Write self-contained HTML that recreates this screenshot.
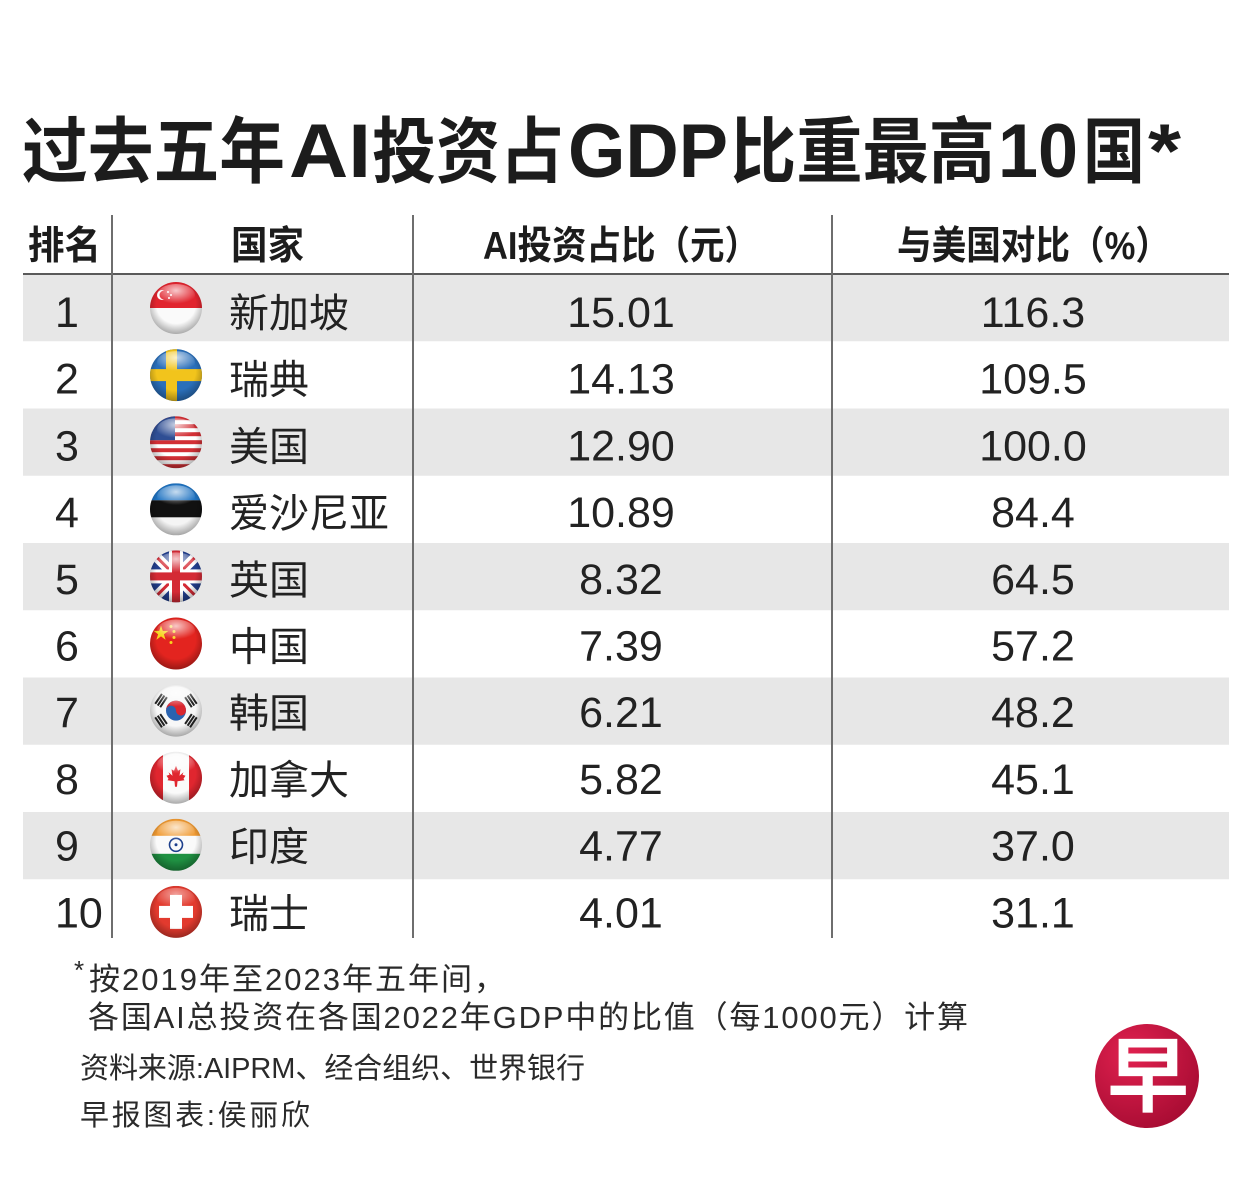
<!DOCTYPE html>
<html>
<head>
<meta charset="utf-8">
<style>
html,body{margin:0;padding:0;background:#fff;}
svg{display:block;}
.cjk{font-family:"Liberation Sans","Noto Sans CJK SC",sans-serif;}
</style>
</head>
<body>
<svg width="1251" height="1179" viewBox="0 0 1251 1179" xmlns="http://www.w3.org/2000/svg">
<defs>
  <clipPath id="cc"><circle cx="0" cy="0" r="26"/></clipPath>
  <radialGradient id="shade" cx="50%" cy="42%" r="58%">
    <stop offset="0.65" stop-color="#000" stop-opacity="0"/>
    <stop offset="1" stop-color="#000" stop-opacity="0.32"/>
  </radialGradient>
  <radialGradient id="gloss" cx="50%" cy="30%" r="60%">
    <stop offset="0" stop-color="#fff" stop-opacity="0.75"/>
    <stop offset="1" stop-color="#fff" stop-opacity="0"/>
  </radialGradient>
  <radialGradient id="logo" cx="35%" cy="30%" r="75%">
    <stop offset="0" stop-color="#e0214f"/>
    <stop offset="1" stop-color="#a80c33"/>
  </radialGradient>
</defs>

<!-- Title -->
<g class="cjk" font-weight="bold" fill="#1c1c1c">
  <text x="22" y="177" font-size="72" textLength="263" lengthAdjust="spacingAndGlyphs">过去五年</text>
  <text x="289" y="177" font-size="76" textLength="82" lengthAdjust="spacingAndGlyphs">AI</text>
  <text x="372" y="177" font-size="72" textLength="192" lengthAdjust="spacingAndGlyphs">投资占</text>
  <text x="568" y="177" font-size="76" textLength="160" lengthAdjust="spacingAndGlyphs">GDP</text>
  <text x="730" y="177" font-size="72" textLength="265" lengthAdjust="spacingAndGlyphs">比重最高</text>
  <text x="998" y="177" font-size="76" textLength="80" lengthAdjust="spacingAndGlyphs">10</text>
  <text x="1083" y="177" font-size="72" textLength="62" lengthAdjust="spacingAndGlyphs">国</text>
  <text x="1148" y="177" font-size="76" textLength="33" lengthAdjust="spacingAndGlyphs">*</text>
</g>

<!-- Striped rows -->
<g fill="#e7e7e7">
  <rect x="23" y="275" width="1206" height="66.25"/>
  <rect x="23" y="408.5" width="1206" height="67.25"/>
  <rect x="23" y="543" width="1206" height="67.25"/>
  <rect x="23" y="677.5" width="1206" height="67.25"/>
  <rect x="23" y="812" width="1206" height="67.25"/>
</g>

<!-- Grid lines -->
<line x1="23" y1="274" x2="1229" y2="274" stroke="#5a5a5a" stroke-width="2"/>
<g stroke="#6e6e6e" stroke-width="2">
  <line x1="112" y1="215" x2="112" y2="938"/>
  <line x1="413" y1="215" x2="413" y2="938"/>
  <line x1="832" y1="215" x2="832" y2="938"/>
</g>

<!-- Header -->
<g class="cjk" font-weight="bold" font-size="39" fill="#1c1c1c">
  <text x="28" y="259" textLength="73" lengthAdjust="spacingAndGlyphs">排名</text>
  <text x="231" y="259" textLength="73" lengthAdjust="spacingAndGlyphs">国家</text>
  <text x="483" y="259" textLength="276" lengthAdjust="spacingAndGlyphs">AI投资占比（元）</text>
  <text x="897" y="259" textLength="273" lengthAdjust="spacingAndGlyphs">与美国对比（%）</text>
</g>

<!-- Rank numbers -->
<g font-family="'Liberation Sans',sans-serif" font-size="43" fill="#222">
  <text x="55" y="327">1</text>
  <text x="55" y="393.7">2</text>
  <text x="55" y="460.4">3</text>
  <text x="55" y="527.1">4</text>
  <text x="55" y="593.8">5</text>
  <text x="55" y="660.5">6</text>
  <text x="55" y="727.2">7</text>
  <text x="55" y="793.9">8</text>
  <text x="55" y="860.6">9</text>
  <text x="55" y="927.3">10</text>
</g>

<!-- Country names -->
<g class="cjk" font-size="40" fill="#222">
  <text x="229" y="327">新加坡</text>
  <text x="229" y="393.7">瑞典</text>
  <text x="229" y="460.4">美国</text>
  <text x="229" y="527.1">爱沙尼亚</text>
  <text x="229" y="593.8">英国</text>
  <text x="229" y="660.5">中国</text>
  <text x="229" y="727.2">韩国</text>
  <text x="229" y="793.9">加拿大</text>
  <text x="229" y="860.6">印度</text>
  <text x="229" y="927.3">瑞士</text>
</g>

<!-- Values -->
<g font-family="'Liberation Sans',sans-serif" font-size="43" fill="#222" text-anchor="middle">
  <text x="621" y="327">15.01</text>
  <text x="621" y="393.7">14.13</text>
  <text x="621" y="460.4">12.90</text>
  <text x="621" y="527.1">10.89</text>
  <text x="621" y="593.8">8.32</text>
  <text x="621" y="660.5">7.39</text>
  <text x="621" y="727.2">6.21</text>
  <text x="621" y="793.9">5.82</text>
  <text x="621" y="860.6">4.77</text>
  <text x="621" y="927.3">4.01</text>

  <text x="1033" y="327">116.3</text>
  <text x="1033" y="393.7">109.5</text>
  <text x="1033" y="460.4">100.0</text>
  <text x="1033" y="527.1">84.4</text>
  <text x="1033" y="593.8">64.5</text>
  <text x="1033" y="660.5">57.2</text>
  <text x="1033" y="727.2">48.2</text>
  <text x="1033" y="793.9">45.1</text>
  <text x="1033" y="860.6">37.0</text>
  <text x="1033" y="927.3">31.1</text>
</g>

<!-- Flags -->
<!-- Singapore -->
<g transform="translate(176,308)">
  <g clip-path="url(#cc)">
    <rect x="-26" y="-26" width="52" height="52" fill="#fafafa"/>
    <rect x="-26" y="-26" width="52" height="26" fill="#e1242e"/>
    <circle cx="-14" cy="-13" r="5" fill="#fff"/>
    <circle cx="-12" cy="-13" r="4.5" fill="#e1242e"/>
    <circle cx="-8" cy="-16" r="1" fill="#fff"/>
    <circle cx="-5" cy="-13" r="1" fill="#fff"/>
    <circle cx="-7" cy="-10" r="1" fill="#fff"/>
  </g>
  <circle r="26" fill="url(#shade)"/>
  <ellipse cx="0" cy="-13" rx="19" ry="11" fill="url(#gloss)"/>
</g>
<!-- Sweden -->
<g transform="translate(176,375.1)">
  <g clip-path="url(#cc)">
    <rect x="-26" y="-26" width="52" height="52" fill="#2a6fba"/>
    <rect x="-10" y="-26" width="11" height="52" fill="#f2c41c"/>
    <rect x="-26" y="-6" width="52" height="12" fill="#f2c41c"/>
  </g>
  <circle r="26" fill="url(#shade)"/>
  <ellipse cx="0" cy="-13" rx="19" ry="11" fill="url(#gloss)"/>
</g>
<!-- USA -->
<g transform="translate(176,442.2)">
  <g clip-path="url(#cc)">
    <rect x="-26" y="-26" width="52" height="52" fill="#fff"/>
    <g fill="#d22f35">
      <rect x="-26" y="-26" width="52" height="4"/>
      <rect x="-26" y="-18" width="52" height="4"/>
      <rect x="-26" y="-10" width="52" height="4"/>
      <rect x="-26" y="-2" width="52" height="4"/>
      <rect x="-26" y="6" width="52" height="4"/>
      <rect x="-26" y="14" width="52" height="4"/>
      <rect x="-26" y="22" width="52" height="4"/>
    </g>
    <rect x="-26" y="-26" width="25" height="24" fill="#2f4e94"/>
  </g>
  <circle r="26" fill="url(#shade)"/>
  <ellipse cx="0" cy="-13" rx="19" ry="11" fill="url(#gloss)"/>
</g>
<!-- Estonia -->
<g transform="translate(176,509.3)">
  <g clip-path="url(#cc)">
    <rect x="-26" y="-26" width="52" height="52" fill="#f4f4f4"/>
    <rect x="-26" y="-26" width="52" height="17" fill="#1f73c2"/>
    <rect x="-26" y="-9" width="52" height="17" fill="#111"/>
  </g>
  <circle r="26" fill="url(#shade)"/>
  <ellipse cx="0" cy="-13" rx="19" ry="11" fill="url(#gloss)"/>
</g>
<!-- UK -->
<g transform="translate(176,576.4)">
  <g clip-path="url(#cc)">
    <rect x="-26" y="-26" width="52" height="52" fill="#223f8e"/>
    <line x1="-26" y1="-26" x2="26" y2="26" stroke="#fff" stroke-width="10"/>
    <line x1="26" y1="-26" x2="-26" y2="26" stroke="#fff" stroke-width="10"/>
    <line x1="-26" y1="-26" x2="26" y2="26" stroke="#d42a35" stroke-width="3"/>
    <line x1="26" y1="-26" x2="-26" y2="26" stroke="#d42a35" stroke-width="3"/>
    <rect x="-7" y="-26" width="14" height="52" fill="#fff"/>
    <rect x="-26" y="-7" width="52" height="14" fill="#fff"/>
    <rect x="-4" y="-26" width="8" height="52" fill="#d42a35"/>
    <rect x="-26" y="-4" width="52" height="8" fill="#d42a35"/>
  </g>
  <circle r="26" fill="url(#shade)"/>
  <ellipse cx="0" cy="-13" rx="19" ry="11" fill="url(#gloss)"/>
</g>
<!-- China -->
<g transform="translate(176,643.5)">
  <g clip-path="url(#cc)">
    <rect x="-26" y="-26" width="52" height="52" fill="#e3241f"/>
    <polygon points="-15,-18 -13.2,-12.6 -7.5,-12.6 -12.1,-9.2 -10.4,-3.8 -15,-7.1 -19.6,-3.8 -17.9,-9.2 -22.5,-12.6 -16.8,-12.6" fill="#f7d51d"/>
    <circle cx="-5" cy="-17" r="1.5" fill="#f7d51d"/>
    <circle cx="-2" cy="-12" r="1.5" fill="#f7d51d"/>
    <circle cx="-2" cy="-6" r="1.5" fill="#f7d51d"/>
    <circle cx="-5" cy="-1" r="1.5" fill="#f7d51d"/>
  </g>
  <circle r="26" fill="url(#shade)"/>
  <ellipse cx="0" cy="-13" rx="19" ry="11" fill="url(#gloss)"/>
</g>
<!-- Korea -->
<g transform="translate(176,710.6)">
  <g clip-path="url(#cc)">
    <rect x="-26" y="-26" width="52" height="52" fill="#f7f7f7"/>
    <circle r="10" fill="#2a63b0"/>
    <path d="M-10,0 A10,10 0 0 1 10,0 A5,5 0 0 1 0,0 A5,5 0 0 0 -10,0 Z" fill="#d9262f"/>
    <g fill="#222">
      <g transform="rotate(-56) translate(0,-18)"><rect x="-6" y="-4" width="12" height="2"/><rect x="-6" y="-1" width="12" height="2"/><rect x="-6" y="2" width="12" height="2"/></g>
      <g transform="rotate(56) translate(0,-18)"><rect x="-6" y="-4" width="12" height="2"/><rect x="-6" y="-1" width="12" height="2"/><rect x="-6" y="2" width="12" height="2"/></g>
      <g transform="rotate(124) translate(0,-18)"><rect x="-6" y="-4" width="12" height="2"/><rect x="-6" y="-1" width="12" height="2"/><rect x="-6" y="2" width="12" height="2"/></g>
      <g transform="rotate(-124) translate(0,-18)"><rect x="-6" y="-4" width="12" height="2"/><rect x="-6" y="-1" width="12" height="2"/><rect x="-6" y="2" width="12" height="2"/></g>
    </g>
  </g>
  <circle r="26" fill="url(#shade)"/>
  <ellipse cx="0" cy="-13" rx="19" ry="11" fill="url(#gloss)"/>
</g>
<!-- Canada -->
<g transform="translate(176,777.7)">
  <g clip-path="url(#cc)">
    <rect x="-26" y="-26" width="52" height="52" fill="#fafafa"/>
    <rect x="-26" y="-26" width="13" height="52" fill="#e0262f"/>
    <rect x="13" y="-26" width="13" height="52" fill="#e0262f"/>
    <path d="M0,-12 L2,-7 L4.5,-8.5 L3.5,-2 L7.5,-5.5 L6.5,-3 L9.5,-2 L7.5,1 L8.5,2.5 L1.5,3.5 L1,9 L-1,9 L-1.5,3.5 L-8.5,2.5 L-7.5,1 L-9.5,-2 L-6.5,-3 L-7.5,-5.5 L-3.5,-2 L-4.5,-8.5 L-2,-7 Z" fill="#e0262f"/>
  </g>
  <circle r="26" fill="url(#shade)"/>
  <ellipse cx="0" cy="-13" rx="19" ry="11" fill="url(#gloss)"/>
</g>
<!-- India -->
<g transform="translate(176,844.8)">
  <g clip-path="url(#cc)">
    <rect x="-26" y="-26" width="52" height="52" fill="#fafafa"/>
    <rect x="-26" y="-26" width="52" height="17" fill="#f09a32"/>
    <rect x="-26" y="9" width="52" height="17" fill="#1f9142"/>
    <circle r="6.5" fill="none" stroke="#1d3f8c" stroke-width="1.6"/>
    <circle r="1.5" fill="#1d3f8c"/>
  </g>
  <circle r="26" fill="url(#shade)"/>
  <ellipse cx="0" cy="-13" rx="19" ry="11" fill="url(#gloss)"/>
</g>
<!-- Switzerland -->
<g transform="translate(176,911.9)">
  <g clip-path="url(#cc)">
    <rect x="-26" y="-26" width="52" height="52" fill="#e23a2e"/>
    <rect x="-6" y="-17" width="12" height="34" fill="#fff"/>
    <rect x="-17" y="-6" width="34" height="12" fill="#fff"/>
  </g>
  <circle r="26" fill="url(#shade)"/>
  <ellipse cx="0" cy="-13" rx="19" ry="11" fill="url(#gloss)" opacity="0.7"/>
</g>

<!-- Footnotes -->
<g class="cjk" font-size="31" fill="#2a2a2a">
  <text x="74" y="979" font-size="26">*</text>
  <text x="89" y="990" textLength="416" lengthAdjust="spacing">按2019年至2023年五年间，</text>
  <text x="88" y="1028" textLength="880" lengthAdjust="spacing">各国AI总投资在各国2022年GDP中的比值（每1000元）计算</text>
  <text x="80" y="1078" font-size="29" textLength="505" lengthAdjust="spacing">资料来源:AIPRM、经合组织、世界银行</text>
  <text x="80" y="1125" font-size="29" textLength="230" lengthAdjust="spacing">早报图表:侯丽欣</text>
</g>

<!-- Logo -->
<circle cx="1147" cy="1076" r="52" fill="url(#logo)"/>
<text x="1148" y="1105" text-anchor="middle" font-family="'Noto Sans CJK SC',sans-serif" font-weight="bold" font-size="82" fill="#fff">早</text>
</svg>
</body>
</html>
